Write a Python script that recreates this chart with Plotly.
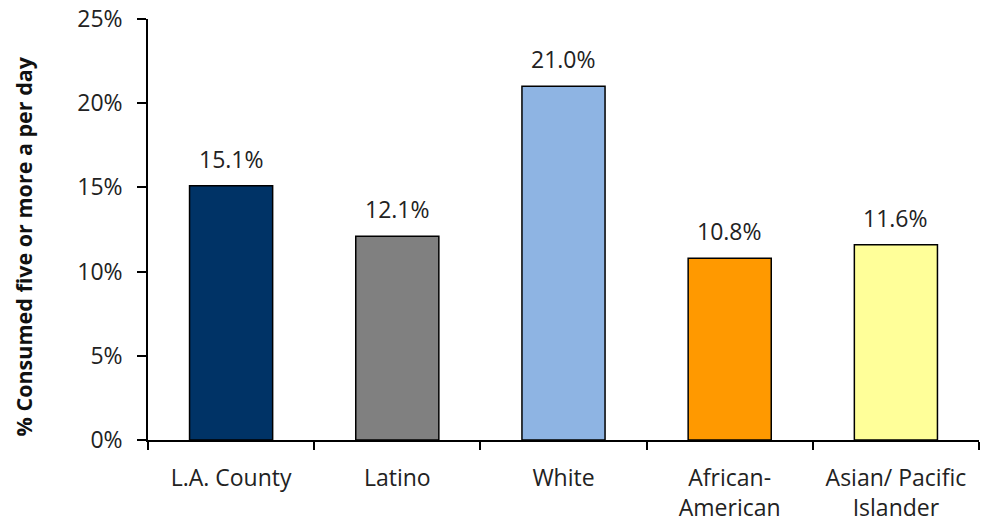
import plotly.graph_objects as go

# Share consuming five or more servings per day, by group
categories = ["L.A. County", "Latino", "White", "African-<br>American", "Asian/ Pacific<br>Islander"]
values = [15.1, 12.1, 21.0, 10.8, 11.6]
colors = ["#003366", "#808080", "#8EB4E3", "#FF9900", "#FFFF99"]
y_ticks = [0, 5, 10, 15, 20, 25]
y_title = "% Consumed five or more a per day"

font_family = "Open Sans, Noto Sans, sans-serif"
text_color = "#222222"

fig = go.Figure(
    go.Bar(
        x=categories,
        y=values,
        marker=dict(color=colors, line=dict(color="#000000", width=1.5)),
    )
)

# Value labels above each bar
for cat, val in zip(categories, values):
    fig.add_annotation(
        x=cat,
        y=val,
        text=f"{val:.1f}%",
        showarrow=False,
        yanchor="bottom",
        yshift=9,
        font=dict(size=23, color=text_color, family=font_family),
    )

# Vertical y-axis title, set slightly below the plot's middle
fig.add_annotation(
    xref="paper",
    yref="paper",
    x=0,
    y=0.5,
    xanchor="center",
    yanchor="middle",
    xshift=-125,
    yshift=-17,
    textangle=-90,
    text=f"<b>{y_title}</b>",
    showarrow=False,
    font=dict(size=21.5, color="#111111", family=font_family),
)

fig.update_layout(
    width=981,
    height=525,
    margin=dict(l=148, r=2, t=18, b=84),
    paper_bgcolor="white",
    plot_bgcolor="white",
    bargap=0.5,
    showlegend=False,
    font=dict(family=font_family, color=text_color),
)

fig.update_xaxes(
    showline=True,
    linecolor="#000000",
    linewidth=1.5,
    ticks="outside",
    tickson="boundaries",
    ticklen=8,
    tickwidth=1.5,
    tickcolor="#000000",
    tickfont=dict(size=23, color=text_color),
    ticklabelstandoff=17,
    showgrid=False,
)

fig.update_yaxes(
    range=[0, 25],
    tickvals=y_ticks,
    ticktext=[f"{t}%" for t in y_ticks],
    showline=True,
    linecolor="#000000",
    linewidth=1.5,
    ticks="outside",
    ticklen=9,
    tickwidth=1.5,
    tickcolor="#000000",
    tickfont=dict(size=23, color=text_color),
    ticklabelstandoff=10,
    showgrid=False,
    zeroline=False,
)

fig.write_html("out.html")
